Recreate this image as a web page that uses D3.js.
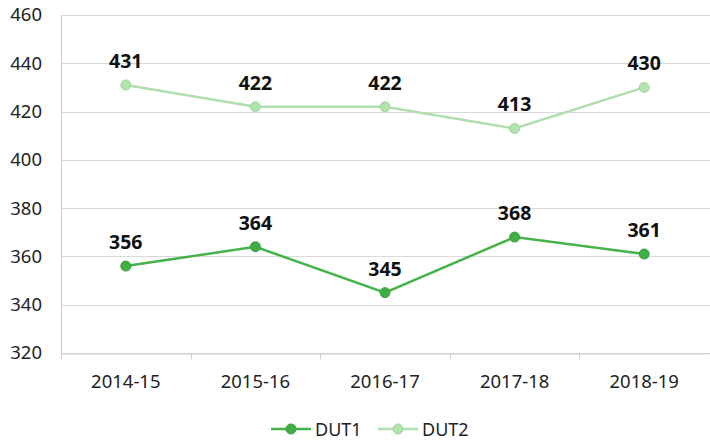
<!DOCTYPE html>
<html>
<head>
<meta charset="utf-8">
<script src="https://cdn.jsdelivr.net/npm/d3@7"></script>
<style>
  body { margin: 0; background: #fff; }
  text { font-family: "Noto Sans", "Open Sans", sans-serif; }
</style>
</head>
<body>
<div id="chart"></div>
<script>
// two series over five academic years, with value labels over each point
const categories = ['2014-15', '2015-16', '2016-17', '2017-18', '2018-19'];
const dut1 = [356, 364, 345, 368, 361];
const dut2 = [431, 422, 422, 413, 430];
const yTicks = [320, 340, 360, 380, 400, 420, 440, 460];

const W = 710, H = 442;
const margin = { top: 15, right: 1, bottom: 89, left: 61 };

const series = [
  { name: 'DUT1', values: dut1, line: '#45b34a', fill: '#3fae45', stroke: '#3a9f40' },
  { name: 'DUT2', values: dut2, line: '#aedfae', fill: '#b2e2b0', stroke: '#9dd69b' },
];

const svg = d3.select('#chart').append('svg')
  .attr('width', W)
  .attr('height', H);

const x = d3.scaleBand()
  .domain(categories)
  .range([margin.left, W - margin.right]);

const y = d3.scaleLinear()
  .domain([320, 460])
  .range([H - margin.bottom, margin.top]);

// horizontal gridlines
svg.append('g')
  .selectAll('line')
  .data(yTicks)
  .enter()
  .append('line')
  .attr('x1', margin.left)
  .attr('x2', W)
  .attr('y1', d => Math.round(y(d)) + 0.5)
  .attr('y2', d => Math.round(y(d)) + 0.5)
  .attr('stroke', '#d9d9d9')
  .attr('stroke-width', 1);

// y axis
const yAxis = svg.append('g')
  .attr('transform', `translate(${margin.left},0)`)
  .call(d3.axisLeft(y).tickValues(yTicks).tickSize(0).tickPadding(19));
yAxis.select('.domain').remove();
yAxis.selectAll('text')
  .attr('font-size', 18.5)
  .attr('fill', '#222');

svg.append('line')
  .attr('x1', margin.left + 0.5)
  .attr('x2', margin.left + 0.5)
  .attr('y1', margin.top)
  .attr('y2', H - margin.bottom + 6)
  .attr('stroke', '#cfcfcf');

// x axis with tick marks at band edges
const xAxis = svg.append('g')
  .attr('transform', `translate(0,${Math.round(y(320)) + 0.5})`)
  .call(d3.axisBottom(x).tickSize(0).tickPadding(21));
xAxis.select('.domain').attr('stroke', '#cfcfcf');
xAxis.selectAll('text')
  .attr('font-size', 18.5)
  .attr('fill', '#222');
xAxis.selectAll('.edge')
  .data(categories.slice(1))
  .enter()
  .append('line')
  .attr('x1', d => Math.round(x(d)) + 0.5)
  .attr('x2', d => Math.round(x(d)) + 0.5)
  .attr('y1', 0)
  .attr('y2', 6)
  .attr('stroke', '#cfcfcf');

const cx = d => x(d) + x.bandwidth() / 2;
const line = d3.line()
  .x((d, i) => cx(categories[i]))
  .y(d => y(d));

series.forEach(s => {
  const g = svg.append('g');
  g.append('path')
    .datum(s.values)
    .attr('d', line)
    .attr('fill', 'none')
    .attr('stroke', s.line)
    .attr('stroke-width', 2.5);

  g.selectAll('circle')
    .data(s.values)
    .enter()
    .append('circle')
    .attr('cx', (d, i) => cx(categories[i]))
    .attr('cy', d => y(d))
    .attr('r', 5)
    .attr('fill', s.fill)
    .attr('stroke', s.stroke)
    .attr('stroke-width', 1);

  g.selectAll('.lbl')
    .data(s.values)
    .enter()
    .append('text')
    .attr('x', (d, i) => cx(categories[i]))
    .attr('y', d => y(d) - 17)
    .attr('text-anchor', 'middle')
    .attr('font-size', 19.5)
    .attr('font-weight', 'bold')
    .attr('fill', '#111')
    .text(d => d);
});

// legend
const legend = svg.append('g').attr('transform', `translate(271,${H - 13})`);
let lx = 0;
series.forEach(s => {
  const item = legend.append('g').attr('transform', `translate(${lx},0)`);
  item.append('line')
    .attr('x1', 0).attr('x2', 40)
    .attr('y1', 0).attr('y2', 0)
    .attr('stroke', s.line)
    .attr('stroke-width', 2.5);
  item.append('circle')
    .attr('cx', 20).attr('cy', 0).attr('r', 5)
    .attr('fill', s.fill)
    .attr('stroke', s.stroke);
  item.append('text')
    .attr('x', 44)
    .attr('y', 6.5)
    .attr('font-size', 18)
    .attr('fill', '#222')
    .text(s.name);
  lx += 107;
});
</script>
</body>
</html>
